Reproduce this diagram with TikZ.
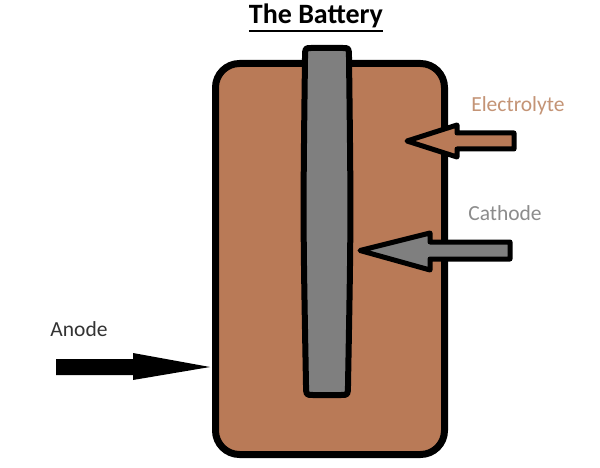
\documentclass[tikz,border=0pt]{standalone}
\usepackage{fontspec}
\setmainfont{Carlito}
\usepackage{tikz}
\usetikzlibrary{positioning,calc}
\definecolor{cellbrown}{RGB}{185,122,87}
\definecolor{rodgray}{RGB}{127,127,127}
\definecolor{elecfont}{RGB}{196,148,118}
\definecolor{cathfont}{RGB}{140,140,140}
\begin{document}
\begin{tikzpicture}[x=1pt,y=-1pt,
  outline/.style={draw=black,line width=6pt,line join=round},
  label/.style={inner sep=0pt,font=\fontsize{21.5}{25}\selectfont}]
\useasboundingbox[fill=white] (0,0) rectangle (600,468);
\node[inner sep=0pt] (title) at (316,16) {\fontsize{28}{32}\selectfont\bfseries The Battery};
\draw[line width=2.5pt] ($(title.south west)+(0,3)$) -- ($(title.south east)+(0,3)$);
\draw[outline,line width=7pt,fill=cellbrown,rounded corners=24] (215.5,63.5) rectangle (444.5,454.5);
\draw[outline,fill=rodgray] (311,48) .. controls (305,48) .. (305,58)
  .. controls (303,220) .. (306,385) .. controls (306,395) .. (313,395)
  -- (341,395) .. controls (348,395) .. (348,385)
  .. controls (351,220) .. (349,58) .. controls (349,48) .. (343,48) -- cycle;
\node[label,text=elecfont] (elec) at (518,106) {Electrolyte};
\node[label,text=cathfont] (cath) at (505,213) {Cathode};
\node[label,text=black!80] (anode) at (79,329) {Anode};
\coordinate (electip) at (407,141);
\coordinate (cathtip) at (360,250.5);
\coordinate (anodetip) at (210,367);
\draw[outline,line width=5pt,fill=cellbrown] (electip) -- (457,125) -- (457,133) -- (514,133)
  -- (514,149) -- (457,149) -- (457,157) -- cycle;
\draw[outline,line width=5pt,fill=rodgray] (cathtip) -- (430,233) -- (430,242) -- (510,242)
  -- (510,259) -- (430,259) -- (430,270) -- cycle;
\fill[black] (anodetip) -- (133,353) -- (133,359) -- (56,359)
  -- (56,375) -- (133,375) -- (133,380) -- cycle;
\end{tikzpicture}
\end{document}
